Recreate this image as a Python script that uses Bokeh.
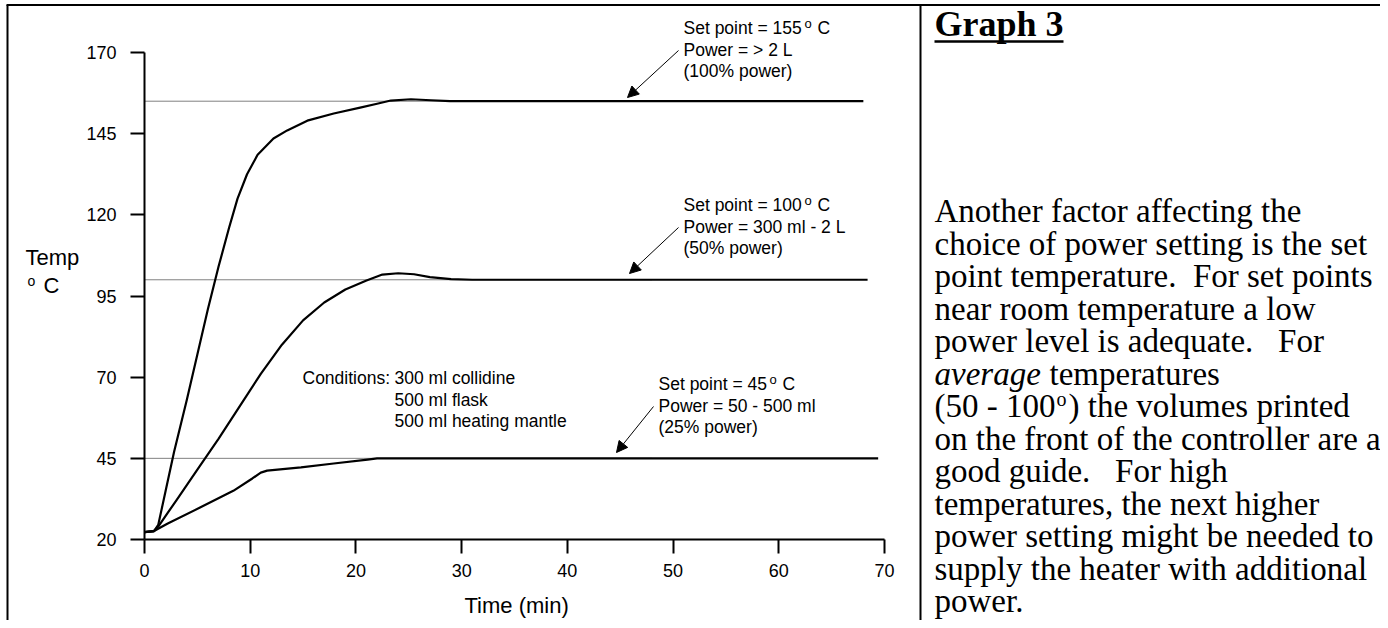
from bokeh.plotting import figure
from bokeh.models import Range1d, Label, Arrow, NormalHead, FixedTicker
from bokeh.embed import file_html
from bokeh.resources import INLINE

# ---------------- data ----------------
time_155 = [0, 0.9, 1.3, 2.0, 2.8, 4.0, 5.0, 6.0, 7.0, 8.0, 8.8, 9.7, 10.7, 12.2, 13.5,
            15.4, 17.9, 20.4, 22.0, 23.3, 25.2, 27.1, 28.9, 30.0, 68.0]
temp_155 = [22.3, 22.6, 24.5, 35.0, 47.0, 63.0, 77.0, 91.0, 104.0, 116.0, 125.0, 132.5, 138.5,
            143.5, 146.0, 149.0, 151.2, 153.0, 154.2, 155.2, 155.6, 155.3, 155.0, 155.0, 155.0]

time_100 = [0, 0.9, 1.3, 3.0, 5.0, 7.0, 9.0, 11.0, 13.0, 15.0, 17.0, 19.0, 21.0, 22.5,
            24.0, 25.5, 27.0, 29.0, 31.0, 68.4]
temp_100 = [22.3, 22.6, 24.0, 32.0, 41.5, 51.0, 61.0, 71.0, 80.0, 87.5, 93.0, 97.0, 99.8,
            101.6, 102.0, 101.7, 100.8, 100.2, 100.0, 100.0]

time_45 = [0, 0.9, 2.2, 5.3, 8.4, 10.2, 11.0, 11.6, 14.8, 17.9, 21.1, 22.0, 69.4]
temp_45 = [22.3, 22.6, 24.9, 29.9, 35.0, 38.8, 40.6, 41.2, 42.2, 43.4, 44.6, 45.0, 45.0]

set_points = [155, 100, 45]
ref_end = [48, 48, 48]
x_ticks = [0, 10, 20, 30, 40, 50, 60, 70]
y_ticks = [20, 45, 70, 95, 120, 145, 170]

set_point_text = ["Set point = 155", "Set point = 100", "Set point = 45"]
power_text = ["Power = > 2 L", "Power = 300 ml - 2 L", "Power = 50 - 500 ml"]
pct_text = ["(100% power)", "(50% power)", "(25% power)"]
conditions = ["300 ml collidine", "500 ml flask", "500 ml heating mantle"]

body_lines = [
    "Another factor affecting the",
    "choice of power setting is the set",
    "point temperature.\u00a0 For set points",
    "near room temperature a low",
    "power level is adequate.\u00a0\u00a0 For",
    None,
    None,
    "on the front of the controller are a",
    "good guide.\u00a0\u00a0 For high",
    "temperatures, the next higher",
    "power setting might be needed to",
    "supply the heater with additional",
    "power.",
]

# ---------------- layout ----------------
SANS = "Liberation Sans"
SERIF = "Liberation Serif"
W, H = 1380, 620
AX_L, AX_R = 144.0, 884.0     # pixel x of time 0 and 70
AX_T, AX_B = 52.0, 539.0      # pixel y of temp 170 and 20
PX_PER_MIN = (AX_R - AX_L) / 70.0
PX_PER_DEG = (AX_B - AX_T) / 150.0


def X(px):  # canvas px -> data x
    return (px - AX_L) / PX_PER_MIN


def Y(py):  # canvas px -> data y
    return 20 + (AX_B - py) / PX_PER_DEG


p = figure(width=W, height=H, x_range=Range1d(X(0), X(W)), y_range=Range1d(Y(H), Y(0)),
           output_backend="svg", toolbar_location=None, title=None,
           min_border=0, min_border_left=0, min_border_right=0,
           min_border_top=0, min_border_bottom=0)
p.outline_line_color = None
p.grid.visible = False
p.background_fill_color = "white"
p.border_fill_color = "white"

p.xaxis.ticker = FixedTicker(ticks=x_ticks)
p.yaxis.ticker = FixedTicker(ticks=y_ticks)
p.xaxis.fixed_location = 20
p.yaxis.fixed_location = 0
p.xaxis.bounds = (0, 70)
p.yaxis.bounds = (20, 170)
for ax in (p.xaxis, p.yaxis):
    ax.axis_line_width = 2
    ax.axis_line_color = "black"
    ax.major_tick_line_width = 2
    ax.major_tick_line_color = "black"
    ax.major_tick_out = 14
    ax.major_tick_in = 0
    ax.minor_tick_line_color = None
    ax.major_label_text_font = SANS
    ax.major_label_text_font_size = "18px"
    ax.major_label_text_color = "black"
p.xaxis.major_label_standoff = 10
p.yaxis.major_label_standoff = 14

# reference (set point) lines
p.segment(x0=[0, 0, 0], y0=set_points, x1=ref_end, y1=set_points,
          line_width=1, line_color="#000000", line_dash="1 1")

# curves
for tt, yy in ((time_155, temp_155), (time_100, temp_100), (time_45, temp_45)):
    p.line(tt, yy, line_width=2.2, line_color="black", line_join="round")


def lab(px, base, text, size=17.5, font=SANS, style="normal"):
    # place text so that its alphabetic baseline sits at canvas y = base
    p.add_layout(Label(x=X(px), y=Y(base - 0.345 * size), text=text, text_font=font,
                       text_font_size=f"{size}px", text_font_style=style,
                       text_color="black", text_align="left",
                       text_baseline="middle"))


def seg(x0, y0, x1, y1, w=2, head=False):
    end = NormalHead(size=11, fill_color="black", line_color="black", line_width=1) if head else None
    p.add_layout(Arrow(end=end, x_start=X(x0), y_start=Y(y0), x_end=X(x1), y_end=Y(y1),
                       line_width=w, line_color="black"))


# set point annotations
label_x = [683, 683, 658]
base_y = [34, 211, 390]
sup_dx = [121, 121, 111]
arrow_tail = [(678, 50), (678, 227), (653, 406)]
arrow_tip = [(627, 97), (629, 273), (616, 452)]
for i in range(3):
    L, b = label_x[i], base_y[i]
    lab(L, b, set_point_text[i])
    lab(L + sup_dx[i], b - 7, "o", size=13)
    lab(L + sup_dx[i] + 13, b, "C")
    lab(L, b + 22, power_text[i])
    lab(L, b + 43, pct_text[i])
    seg(*arrow_tail[i], *arrow_tip[i], w=1, head=True)

# conditions
lab(302, 384, "Conditions:")
for i, c in enumerate(conditions):
    lab(394, 384 + 21.5 * i, c)

# axis titles
lab(25, 265, "Temp", size=22)
lab(27, 285, "o", size=14)
lab(43, 293, "C", size=22)
lab(464, 613, "Time (min)", size=22)

# table borders
seg(6, 4.5, W, 4.5, w=2)
seg(7, 4.5, 7, H, w=2)
seg(920, 4.5, 920, H, w=2)

# right-hand text
TX = 934
FS = 33
lab(TX, 36, "Graph 3", size=36, font=SERIF, style="bold")
seg(TX, 41, TX + 129, 41, w=2.5)
b0, dy = 222, 32.5
for i, line in enumerate(body_lines):
    if line is not None:
        lab(TX, b0 + dy * i, line, size=FS, font=SERIF)
lab(TX, b0 + dy * 5, "average", size=FS, font=SERIF, style="italic")
lab(TX + 115, b0 + dy * 5, "temperatures", size=FS, font=SERIF)
lab(TX, b0 + dy * 6, "(50 - 100", size=FS, font=SERIF)
lab(TX + 122, b0 + dy * 6 - 12, "o", size=20, font=SERIF)
lab(TX + 134, b0 + dy * 6, ") the volumes printed", size=FS, font=SERIF)

open("out.html", "w").write(file_html(p, INLINE))
